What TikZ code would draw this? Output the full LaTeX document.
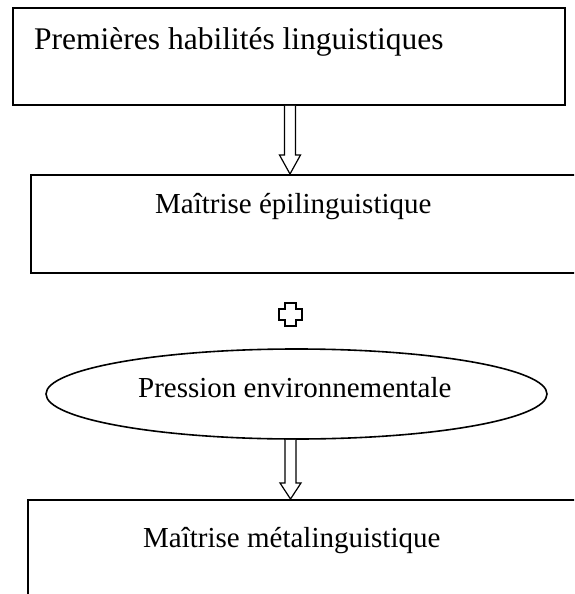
\documentclass[tikz,border=0pt]{standalone}
\usepackage{fontspec}
\setmainfont{Liberation Serif}
\usetikzlibrary{shapes.geometric,calc}
\tikzset{
  frame/.style={draw=black, line width=1.6pt, inner sep=0pt},
  lbl/.style={anchor=base west, inner sep=0pt, font=\fontsize{29}{34}\selectfont},
  blockarrow/.style={draw=black, line width=1.2pt, fill=white, line join=miter},
}
\begin{document}
\begin{tikzpicture}[x=1pt,y=-1pt]
\useasboundingbox (0,0) rectangle (574,594);
\clip (0,0) rectangle (574,594);
% boxes
\node[frame, rectangle, minimum width=552pt, minimum height=97pt] (box1) at (289,56.5) {};
\node[frame, rectangle, minimum width=560pt, minimum height=98pt, anchor=north west] (box2) at (30,174) {};
\node[frame, ellipse, minimum width=501pt, minimum height=90pt] (ell) at (296.5,394) {};
\node[frame, rectangle, minimum width=570pt, minimum height=120pt, anchor=north west] (box3) at (27,499) {};
% texts
\node[lbl, font=\fontsize{31.5}{36}\selectfont] (t1) at (34,49) {Premières habilités linguistiques};
\node[lbl] (t2) at (155,213) {Maîtrise épilinguistique};
\node[lbl] (t3) at (138,397) {Pression environnementale};
\node[lbl] (t4) at (143,547) {Maîtrise métalinguistique};
% arrow 1
\coordinate (a1) at (box1.south -| 290,0);
\coordinate (a1t) at (box2.north -| 290,0);
\draw[blockarrow] ($(a1)+(-5.5,0)$) -- ($(a1t)+(-5.5,-19)$) -- ($(a1t)+(-10.5,-19)$) -- (a1t)
  -- ($(a1t)+(10.5,-19)$) -- ($(a1t)+(5.5,-19)$) -- ($(a1)+(5.5,0)$);
% arrow 2
\coordinate (a2) at (ell.south -| 290.5,0);
\coordinate (a2t) at (box3.north -| 290.5,0);
\draw[blockarrow] ($(a2)+(-5.5,0)$) -- ($(a2t)+(-5.5,-16)$) -- ($(a2t)+(-10.5,-16)$) -- (a2t)
  -- ($(a2t)+(10.5,-16)$) -- ($(a2t)+(5.5,-16)$) -- ($(a2)+(5.5,0)$);
% plus sign
\coordinate (pl) at (290.5,314.5);
\draw[blockarrow, line width=1.5pt] ($(pl)+(-5.5,-11.5)$) -- ($(pl)+(5.5,-11.5)$) -- ($(pl)+(5.5,-5.5)$)
  -- ($(pl)+(11.5,-5.5)$) -- ($(pl)+(11.5,5.5)$) -- ($(pl)+(5.5,5.5)$) -- ($(pl)+(5.5,11.5)$)
  -- ($(pl)+(-5.5,11.5)$) -- ($(pl)+(-5.5,5.5)$) -- ($(pl)+(-11.5,5.5)$) -- ($(pl)+(-11.5,-5.5)$)
  -- ($(pl)+(-5.5,-5.5)$) -- cycle;
\end{tikzpicture}
\end{document}
